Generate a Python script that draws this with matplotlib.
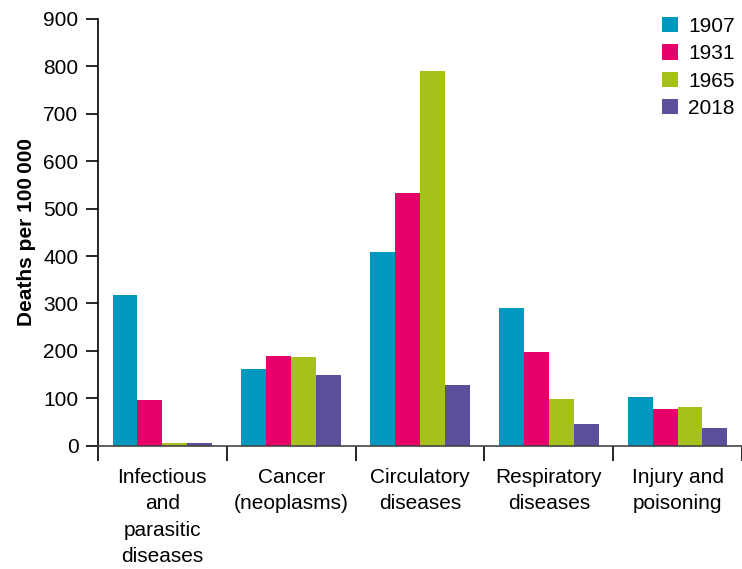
import matplotlib
matplotlib.use("Agg")
import matplotlib.pyplot as plt
import numpy as np

plt.rcParams['font.family'] = ['Liberation Sans', 'DejaVu Sans']

categories = ["Infectious\nand\nparasitic\ndiseases", "Cancer\n(neoplasms)",
              "Circulatory\ndiseases", "Respiratory\ndiseases", "Injury and\npoisoning"]
years = ["1907", "1931", "1965", "2018"]
deaths_1907 = [318, 162, 408, 290, 103]
deaths_1931 = [97, 190, 533, 198, 77]
deaths_1965 = [6, 188, 790, 98, 82]
deaths_2018 = [6, 150, 128, 46, 37]
series = [deaths_1907, deaths_1931, deaths_1965, deaths_2018]
colors = ["#0098BE", "#E5006A", "#A4C11C", "#5B4F99"]
yticks = [0, 100, 200, 300, 400, 500, 600, 700, 800, 900]

fs = 15

fig = plt.figure(figsize=(7.42, 5.69), dpi=100)
ax = fig.add_axes([0.132, 0.2167, 0.868, 0.75])

x = np.arange(len(categories))
w = 0.193
for i, (vals, c, yr) in enumerate(zip(series, colors, years)):
    ax.bar(x + (i - 1.5) * w, vals, width=w, color=c, label=yr)

ax.set_xlim(-0.5, 4.43)
ax.set_ylim(0, 900)
ax.set_yticks(yticks)
ax.tick_params(axis='y', labelsize=fs, length=9, width=1.2, pad=5, direction='out')

# group boundaries as tick marks below the axis; labels centred per group
ax.set_xticks(np.arange(len(categories) + 1) - 0.5)
ax.set_xticklabels([])
ax.tick_params(axis='x', length=11, width=1.2, direction='out')
for xi, lab in zip(x, categories):
    ax.text(xi, -46, lab, ha='center', va='top', fontsize=fs, linespacing=1.5)

for s in ['top', 'right']:
    ax.spines[s].set_visible(False)
ax.spines['left'].set_linewidth(1.2)
ax.spines['bottom'].set_linewidth(1.2)
ax.spines['bottom'].set_color('#444444')

ax.set_ylabel("Deaths per 100\u2009000", fontsize=fs, fontweight='bold', labelpad=5)

leg = ax.legend(loc='upper right', bbox_to_anchor=(1.008, 1.034), frameon=False, fontsize=fs,
                handlelength=0.74, handleheight=0.74, handletextpad=0.5, labelspacing=0.4,
                borderaxespad=0.2)

fig.savefig("out.png", dpi=100)
